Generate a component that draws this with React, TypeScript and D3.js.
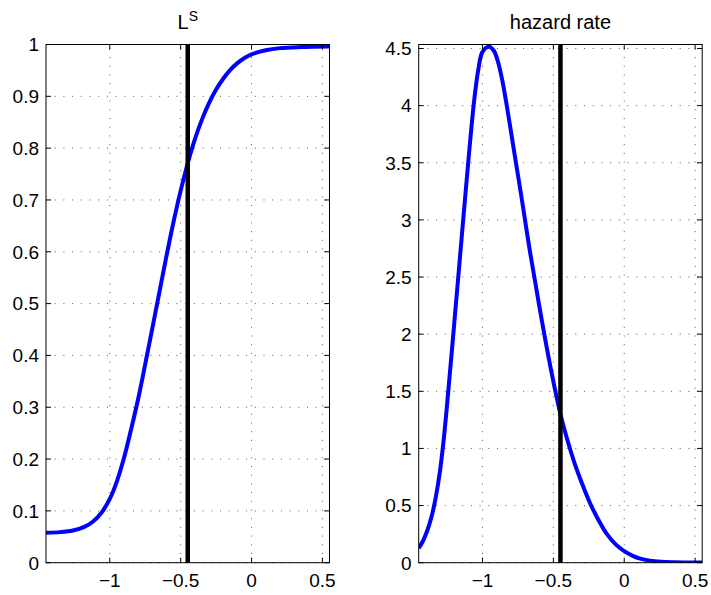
import React from 'react';
import * as d3 from 'd3';

// ---- data ----
const xDomain: [number, number] = [-1.45, 0.55];
const xTicks = [-1, -0.5, 0, 0.5];
const markerX = -0.45;

const lsX = [-1.45, -1.35, -1.26, -1.18, -1.12, -1.06, -1.0, -0.95, -0.9, -0.85, -0.8, -0.75, -0.7, -0.65, -0.6, -0.55, -0.5, -0.45, -0.4, -0.35, -0.3, -0.25, -0.2, -0.15, -0.1, -0.05, 0.0, 0.1, 0.2, 0.35, 0.55];
const lsY = [0.058, 0.059, 0.062, 0.069, 0.079, 0.096, 0.123, 0.157, 0.202, 0.257, 0.316, 0.383, 0.452, 0.522, 0.592, 0.658, 0.718, 0.771, 0.817, 0.855, 0.887, 0.913, 0.934, 0.951, 0.964, 0.974, 0.981, 0.989, 0.993, 0.995, 0.996];
const lsYTicks = [0, 0.1, 0.2, 0.3, 0.4, 0.5, 0.6, 0.7, 0.8, 0.9, 1];
const lsYDomain: [number, number] = [0, 1];

const hzX = [-1.45, -1.42, -1.39, -1.36, -1.33, -1.3, -1.27, -1.24, -1.21, -1.18, -1.15, -1.12, -1.09, -1.06, -1.03, -1.0, -0.955, -0.92, -0.89, -0.86, -0.83, -0.8, -0.764, -0.73, -0.7, -0.67, -0.637, -0.58, -0.52, -0.45, -0.4, -0.35, -0.3, -0.241, -0.18, -0.122, -0.06, -0.005, 0.06, 0.113, 0.18, 0.26, 0.35, 0.55];
const hzY = [0.126, 0.19, 0.28, 0.4, 0.57, 0.8, 1.12, 1.52, 1.94, 2.37, 2.8, 3.23, 3.65, 4.03, 4.31, 4.47, 4.515, 4.48, 4.38, 4.22, 4.01, 3.78, 3.5, 3.24, 3.0, 2.76, 2.52, 2.11, 1.71, 1.3, 1.07, 0.87, 0.7, 0.52, 0.37, 0.25, 0.16, 0.105, 0.06, 0.035, 0.018, 0.008, 0.004, 0.002];
const hzYTicks = [0, 0.5, 1, 1.5, 2, 2.5, 3, 3.5, 4, 4.5];
const hzYDomain: [number, number] = [0, 4.535];

const FONT = '"Liberation Sans", Arial, Helvetica, sans-serif';

const fmt = (v: number) => String(v).replace('-', '\u2212');

type PanelProps = {
  id: string;
  left: number;
  top: number;
  width: number;
  height: number;
  xs: number[];
  ys: number[];
  yDomain: [number, number];
  yTicks: number[];
  title: React.ReactNode;
};

function Panel({ id, left, top, width, height, xs, ys, yDomain, yTicks, title }: PanelProps) {
  const x = d3.scaleLinear().domain(xDomain).range([left, left + width]);
  const y = d3.scaleLinear().domain(yDomain).range([top + height, top]);
  const pts: [number, number][] = xs.map((v, i) => [v, ys[i]]);
  const line = d3
    .line<[number, number]>()
    .x((d) => x(d[0]))
    .y((d) => y(d[1]))
    .curve(d3.curveCatmullRom.alpha(0.5));
  const tickLen = 5;
  const bottom = top + height;
  const right = left + width;
  return (
    <g>
      <defs>
        <clipPath id={id}>
          <rect x={left} y={top} width={width} height={height} />
        </clipPath>
      </defs>
      <rect x={left} y={top} width={width} height={height} fill="#fff" />
      {/* grid */}
      <g stroke="#333" strokeWidth={1} strokeDasharray="1 7.7" opacity={0.8}>
        {xTicks.map((t) => (
          <line key={'gx' + t} x1={x(t)} x2={x(t)} y1={bottom} y2={top} />
        ))}
        {yTicks.map((t) => (
          <line key={'gy' + t} x1={left} x2={right} y1={y(t)} y2={y(t)} />
        ))}
      </g>
      {/* curve */}
      <path d={line(pts) || ''} fill="none" stroke="#0000ff" strokeWidth={4} strokeLinejoin="round" clipPath={`url(#${id})`} />
      {/* marker line */}
      <line x1={x(markerX)} x2={x(markerX)} y1={top} y2={bottom} stroke="#000" strokeWidth={4.5} />
      {/* box */}
      <rect x={left} y={top} width={width} height={height} fill="none" stroke="#000" strokeWidth={1} />
      {/* ticks */}
      <g stroke="#000" strokeWidth={1}>
        {xTicks.map((t) => (
          <g key={'tx' + t}>
            <line x1={x(t)} x2={x(t)} y1={bottom} y2={bottom - tickLen} />
            <line x1={x(t)} x2={x(t)} y1={top} y2={top + tickLen} />
          </g>
        ))}
        {yTicks.map((t) => (
          <g key={'ty' + t}>
            <line x1={left} x2={left + tickLen} y1={y(t)} y2={y(t)} />
            <line x1={right} x2={right - tickLen} y1={y(t)} y2={y(t)} />
          </g>
        ))}
      </g>
      {/* labels */}
      <g fontFamily={FONT} fontSize={19} fill="#000">
        {xTicks.map((t) => (
          <text key={'lx' + t} x={x(t)} y={bottom + 24} textAnchor="middle">
            {fmt(t)}
          </text>
        ))}
        {yTicks.map((t) => (
          <text key={'ly' + t} x={left - 7} y={y(t)} dy="0.36em" textAnchor="end">
            {fmt(t)}
          </text>
        ))}
      </g>
      <text x={left + width / 2} y={29} textAnchor="middle" fontFamily={FONT} fontSize={20} fill="#000">
        {title}
      </text>
    </g>
  );
}

export default function App() {
  const top = 44.5;
  const height = 518.2;
  const width = 283.5;
  return (
    <svg
      width={711}
      height={595}
      viewBox="0 0 711 595"
      style={{ position: 'absolute', left: 0, top: 0, background: '#fff' }}
    >
      <rect x={0} y={0} width={711} height={595} fill="#fff" />
      <Panel
        id="clipL"
        left={46}
        top={top}
        width={width}
        height={height}
        xs={lsX}
        ys={lsY}
        yDomain={lsYDomain}
        yTicks={lsYTicks}
        title={
          <>
            L
            <tspan dy={-8.5} fontSize={14}>
              S
            </tspan>
          </>
        }
      />
      <Panel
        id="clipR"
        left={418.7}
        top={top}
        width={width}
        height={height}
        xs={hzX}
        ys={hzY}
        yDomain={hzYDomain}
        yTicks={hzYTicks}
        title="hazard rate"
      />
    </svg>
  );
}
